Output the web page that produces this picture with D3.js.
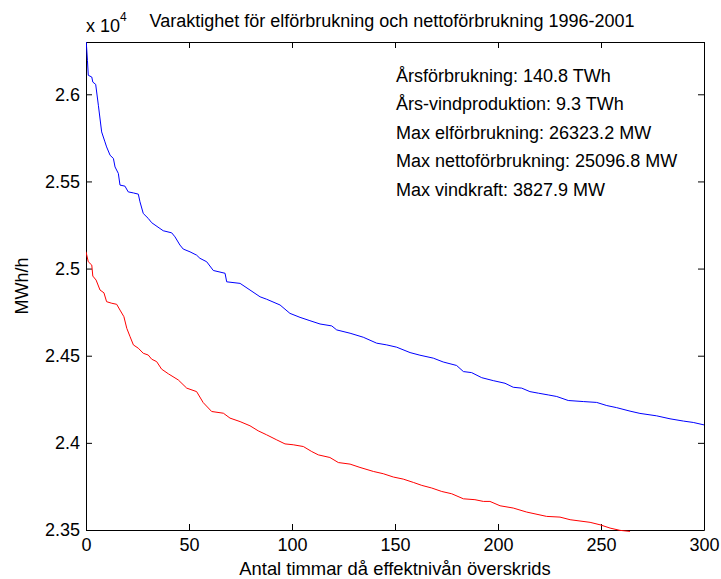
<!DOCTYPE html>
<html>
<head>
<meta charset="utf-8">
<script src="https://cdn.jsdelivr.net/npm/d3@7"></script>
<style>
  html, body { margin: 0; padding: 0; background: #fff; }
  svg { display: block; font-family: "Liberation Sans", Arial, Helvetica, sans-serif; }
</style>
</head>
<body>
<svg id="chart" width="721" height="579"></svg>
<script>
// Duration curves (hours exceeded vs. load, MWh/h)
const titleText = "Varaktighet för elförbrukning och nettoförbrukning 1996-2001";
const xLabel = "Antal timmar då effektnivån överskrids";
const yLabel = "MWh/h";

const xTicks = [0, 50, 100, 150, 200, 250, 300];
const yTicks = [23500, 24000, 24500, 25000, 25500, 26000];
const yTickLabels = ["2.35", "2.4", "2.45", "2.5", "2.55", "2.6"];

// Electricity consumption (blue)
const hoursEl = [0, 0.7, 1.1, 2.8, 3.3, 4.7, 6.0, 7.6, 9.2, 10.0, 11.7, 13.3, 14.1, 15.7, 16.5, 18.9,
  20.5, 23.0, 25.4, 26.2, 27.8, 30.2, 31.9, 35.9, 37.5, 41.6, 43.2, 45.6, 47.2, 50.5, 53.7, 55.3,
  58.6, 61.8, 67.5, 68.3, 74.8, 79.6, 84.5, 87.7, 94.2, 99.0, 103.9, 108.7, 113.6, 119.3, 121.7,
  128.2, 134.6, 141.1, 146.0, 150.8, 157.3, 162.1, 168.6, 173.4, 179.9, 183.2, 187.2, 192.1, 197.7,
  203.4, 207.4, 211.5, 215.5, 219.6, 224.4, 228.5, 234.1, 241.4, 247.9, 252.8, 257.6, 264.1, 268.9,
  277.0, 283.5, 290.0, 294.8, 300];
const elforbrukning = [26323.2, 26195, 26109, 26099, 26070, 26057, 25937, 25784, 25727, 25698, 25650,
  25632, 25583, 25546, 25479, 25473, 25440, 25434, 25427, 25383, 25316, 25288, 25263, 25230, 25217,
  25205, 25182, 25135, 25112, 25096, 25077, 25059, 25039, 24989, 24973, 24924, 24915, 24877, 24838,
  24824, 24791, 24743, 24720, 24701, 24682, 24671, 24648, 24629, 24606, 24572, 24562, 24549, 24518,
  24503, 24486, 24464, 24444, 24409, 24403, 24374, 24357, 24342, 24319, 24314, 24294, 24285, 24275,
  24266, 24243, 24237, 24232, 24214, 24202, 24182, 24169, 24155, 24138, 24125, 24117, 24103];

// Net consumption, i.e. consumption minus wind power (red)
const hoursNetto = [0, 1.1, 2.8, 3.3, 4.9, 6.8, 8.7, 10.0, 12.5, 14.9, 16.5, 18.4, 19.8, 21.4, 23.0,
  25.4, 27.8, 30.2, 31.9, 34.3, 36.7, 40.0, 44.8, 48.9, 53.7, 56.9, 61.0, 66.7, 69.9, 74.8, 79.6,
  83.6, 87.7, 92.6, 96.6, 100.6, 105.5, 109.6, 112.8, 118.4, 122.5, 128.2, 133.0, 139.5, 144.3,
  149.2, 154.0, 158.9, 163.0, 167.8, 172.7, 177.5, 183.2, 188.8, 192.9, 196.1, 201.0, 207.4, 213.9,
  223.6, 230.1, 235.0, 244.7, 249.5, 254.4, 259.2, 264.1];
const nettoforbrukning = [25096.8, 25039, 25020, 24957, 24934, 24877, 24861, 24810, 24801, 24795,
  24762, 24724, 24657, 24609, 24562, 24543, 24514, 24504, 24480, 24466, 24423, 24396, 24361, 24314,
  24294, 24231, 24180, 24170, 24142, 24122, 24098, 24069, 24046, 24017, 23994, 23989, 23979, 23950,
  23931, 23916, 23887, 23878, 23859, 23836, 23823, 23804, 23792, 23773, 23756, 23741, 23721, 23708,
  23679, 23674, 23664, 23664, 23639, 23626, 23603, 23578, 23574, 23559, 23544, 23530, 23511, 23498,
  23492];

const infoLines = [
  "Årsförbrukning: 140.8 TWh",
  "Års-vindproduktion: 9.3 TWh",
  "Max elförbrukning: 26323.2 MW",
  "Max nettoförbrukning: 25096.8 MW",
  "Max vindkraft: 3827.9 MW"
];

const svg = d3.select("#chart");
const plotLeft = 86, plotRight = 704, plotTop = 42, plotBottom = 530;
const fontSize = 18;

const x = d3.scaleLinear().domain([0, 300]).range([plotLeft, plotRight]);
const y = d3.scaleLinear().domain([23500, 26300]).range([plotBottom, plotTop]);

svg.append("rect").attr("x", 0).attr("y", 0).attr("width", 721).attr("height", 579).attr("fill", "#fff");

svg.append("defs").append("clipPath").attr("id", "plotClip")
  .append("rect").attr("x", plotLeft).attr("y", plotTop)
  .attr("width", plotRight - plotLeft + 1).attr("height", plotBottom - plotTop + 2);

// Axes with inward ticks on all four sides
function styleAxis(g) {
  g.selectAll("path.domain").attr("stroke", "#000");
  g.selectAll(".tick line").attr("stroke", "#000");
  g.selectAll(".tick text").attr("fill", "#000").attr("font-size", fontSize)
    .attr("font-family", "'Liberation Sans', Arial, sans-serif");
}

svg.append("g").attr("transform", `translate(0,${plotBottom})`)
  .call(d3.axisBottom(x).tickValues(xTicks).tickFormat(d3.format("d"))
    .tickSizeInner(-6).tickSizeOuter(0).tickPadding(8))
  .call(styleAxis);

svg.append("g").attr("transform", `translate(0,${plotTop})`)
  .call(d3.axisTop(x).tickValues(xTicks).tickFormat("").tickSizeInner(-6).tickSizeOuter(0))
  .call(styleAxis);

svg.append("g").attr("transform", `translate(${plotLeft},0)`)
  .call(d3.axisLeft(y).tickValues(yTicks).tickFormat((d, i) => yTickLabels[i])
    .tickSizeInner(-6).tickSizeOuter(0).tickPadding(6))
  .call(styleAxis);

svg.append("g").attr("transform", `translate(${plotRight},0)`)
  .call(d3.axisRight(y).tickValues(yTicks).tickFormat("").tickSizeInner(-6).tickSizeOuter(0))
  .call(styleAxis);

// Curves
const line = d3.line().x(d => x(d[0])).y(d => y(d[1]));
const plot = svg.append("g").attr("clip-path", "url(#plotClip)");

plot.append("path")
  .datum(hoursEl.map((h, i) => [h, elforbrukning[i]]))
  .attr("d", line).attr("fill", "none").attr("stroke", "#0000ff").attr("stroke-width", 1);

plot.append("path")
  .datum(hoursNetto.map((h, i) => [h, nettoforbrukning[i]]))
  .attr("d", line).attr("fill", "none").attr("stroke", "#ff0000").attr("stroke-width", 1);

// Info text inside the axes
svg.append("g").selectAll("text").data(infoLines).join("text")
  .attr("x", 396).attr("y", (d, i) => 82 + i * 28.4)
  .attr("font-size", fontSize).attr("fill", "#000")
  .text(d => d);

// Title
svg.append("text").attr("x", 392).attr("y", 27).attr("text-anchor", "middle")
  .attr("font-size", fontSize).attr("fill", "#000").text(titleText);

// Exponent marker
const expo = svg.append("text").attr("x", 86).attr("y", 32).attr("font-size", fontSize).attr("fill", "#000");
expo.append("tspan").text("x 10");
expo.append("tspan").attr("dy", -11).attr("font-size", 12).text("4");

// Axis labels
svg.append("text").attr("x", 395).attr("y", 575).attr("text-anchor", "middle")
  .attr("font-size", 18.4).attr("fill", "#000").text(xLabel);

svg.append("text").attr("transform", `translate(28,${(plotTop + plotBottom) / 2}) rotate(-90)`)
  .attr("text-anchor", "middle").attr("font-size", fontSize).attr("fill", "#000").text(yLabel);
</script>
</body>
</html>
